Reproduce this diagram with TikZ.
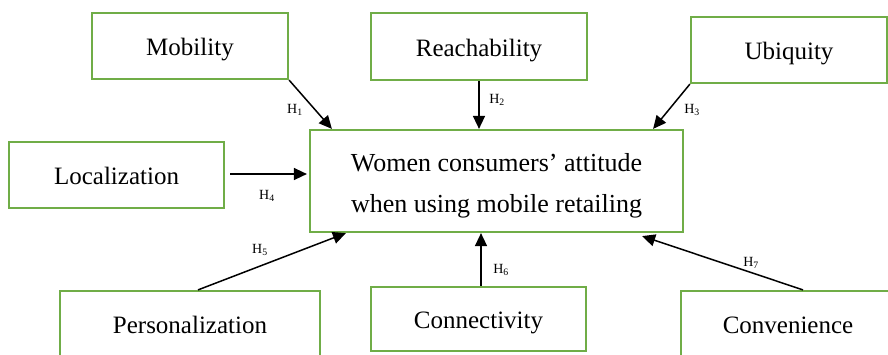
\documentclass[tikz,border=0pt]{standalone}
\usepackage{fontspec}
\setmainfont{Liberation Serif}
\usetikzlibrary{arrows.meta,calc}
\definecolor{boxgreen}{HTML}{70AD47}
\begin{document}
\begin{tikzpicture}[x=1pt,y=-1pt,
  fbox/.style={draw=boxgreen,line width=2.2pt,fill=white,inner sep=0pt,font=\fontsize{25}{30}\selectfont,text height=19pt,text depth=0pt},
  hyp/.style={font=\fontsize{14}{16}\selectfont,inner sep=0pt},
  arr/.style={line width=1.5pt,-{Triangle[length=13pt,width=12pt]}}]
\useasboundingbox (0,0) rectangle (888,354);
\clip (0,0) rectangle (888,354);
\node[fbox,minimum width=196pt,minimum height=66pt] (mob) at (190,46) {Mobility};
\node[fbox,minimum width=216pt,minimum height=67pt] (reach) at (479,46.5) {Reachability};
\node[fbox,minimum width=196pt,minimum height=66pt] (ubiq) at (789,50) {Ubiquity};
\node[fbox,minimum width=215pt,minimum height=66pt] (loc) at (116.5,175) {Localization};
\node[fbox,minimum width=373pt,minimum height=102pt] (att) at (496.5,181) {};
\node[align=center,inner sep=0pt,font=\fontsize{26}{41}\selectfont] (atttext) at ($(att.center)+(0,5)$) {Women consumers’ attitude\\when using mobile retailing};
\node[fbox,minimum width=260pt,minimum height=66pt] (pers) at (190,324) {Personalization};
\node[fbox,minimum width=215pt,minimum height=64pt] (conn) at (478.5,319) {Connectivity};
\node[fbox,minimum width=214pt,minimum height=66pt] (conv) at (788,324) {Convenience};

\coordinate (c6) at ($(conn.north)+(2.5,0)$);
\coordinate (c2) at (reach.south);
\draw[arr] (mob.south east) -- ($(att.north west)+(23,0)$);
\draw[arr] (c2) -- (c2 |- att.north);
\draw[arr] (ubiq.south west) -- ($(att.north east)+(-31,0)$);
\draw[arr] ($(loc.east)+(5,-1)$) -- ($(att.west)+(-2,-7)$);
\draw[arr] ($(pers.north)+(8,0)$) -- ($(att.south west)+(37,0)$);
\draw[arr] (c6) -- (c6 |- att.south);
\draw[arr] ($(conv.north)+(15,0)$) -- ($(att.south east)+(-42,3)$);

\node[hyp] (h1) at (295,110) {H\textsubscript{1}};
\node[hyp] (h2) at (497,100) {H\textsubscript{2}};
\node[hyp] (h3) at (692,110) {H\textsubscript{3}};
\node[hyp] (h4) at (267,196) {H\textsubscript{4}};
\node[hyp] (h5) at (260,250) {H\textsubscript{5}};
\node[hyp] (h6) at (501,270) {H\textsubscript{6}};
\node[hyp] (h7) at (751,263) {H\textsubscript{7}};
\end{tikzpicture}
\end{document}
